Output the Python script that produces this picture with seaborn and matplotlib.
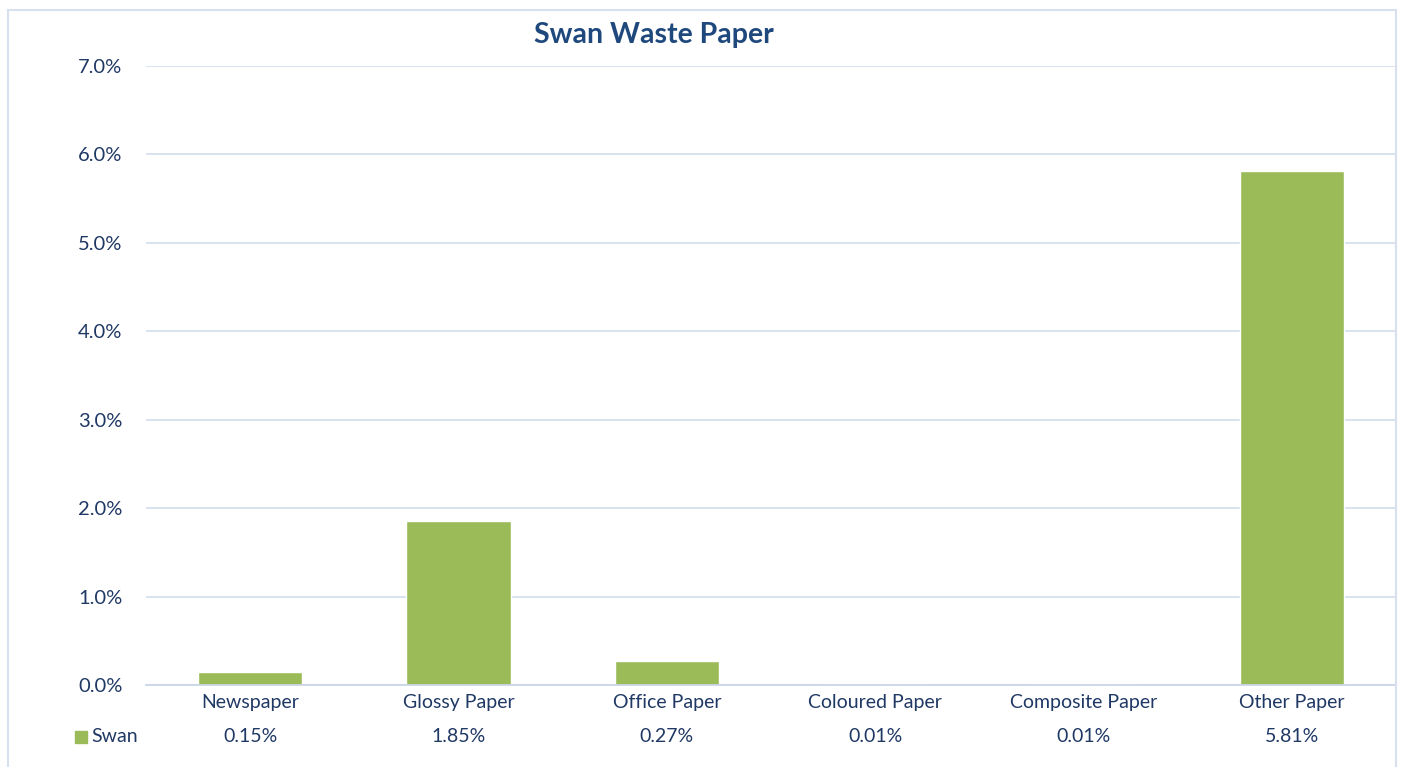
import matplotlib
matplotlib.use('Agg')
import matplotlib.pyplot as plt
from matplotlib.patches import Rectangle
from matplotlib.ticker import FuncFormatter
import seaborn as sns
import pandas as pd

categories = ['Newspaper', 'Glossy Paper', 'Office Paper', 'Coloured Paper',
              'Composite Paper', 'Other Paper']
swan = [0.15, 1.85, 0.27, 0.01, 0.01, 5.81]
value_labels = ['0.15%', '1.85%', '0.27%', '0.01%', '0.01%', '5.81%']

text_col = '#1F3864'
grid_col = '#D6E0EE'
bar_col = '#9BBB59'

sns.set_style('white')
plt.rcParams['font.family'] = ['Lato', 'DejaVu Sans']

df = pd.DataFrame({'category': categories, 'value': swan})

fig = plt.figure(figsize=(14.02, 7.67), dpi=100)
ax = fig.add_axes([146 / 1402, 1 - 685 / 767, 1250 / 1402, 619 / 767])

sns.barplot(data=df, x='category', y='value', color=bar_col, width=0.5,
            saturation=1, ax=ax)

ax.set_ylim(0, 7)
ax.set_yticks([0, 1, 2, 3, 4, 5, 6, 7])
ax.yaxis.set_major_formatter(FuncFormatter(lambda v, p: f'{v:.1f}%'))
ax.grid(axis='y', color=grid_col, linewidth=1.3)
ax.set_axisbelow(True)
for s in ['top', 'right', 'left']:
    ax.spines[s].set_visible(False)
ax.spines['bottom'].set_color('#C9D5E8')
ax.spines['bottom'].set_linewidth(1.3)
ax.tick_params(axis='y', length=0, pad=17, labelsize=14.5, labelcolor=text_col)
ax.tick_params(axis='x', length=0, pad=6.5, labelsize=14, labelcolor=text_col)
ax.set_xlabel('')
ax.set_ylabel('')

# data table row
trans = ax.get_xaxis_transform()
for i, lab in enumerate(value_labels):
    ax.text(i, -0.0825, lab, transform=trans, ha='center', va='center',
            fontsize=14, color=text_col)
fig.patches.append(Rectangle((75 / 1402, 1 - 743 / 767), 12 / 1402, 12 / 767,
                             transform=fig.transFigure, color=bar_col))
fig.text(91 / 1402, 1 - 737 / 767, 'Swan', ha='left', va='center',
         fontsize=14, color=text_col)

fig.text(654 / 1402, 1 - 35 / 767, 'Swan Waste Paper', ha='center', va='center',
         fontsize=20.5, fontweight='bold', color='#1F497D')

# chart border
fig.patches.append(Rectangle((8 / 1402, -0.05), 1388 / 1402, 1.05 - 10 / 767,
                             transform=fig.transFigure, fill=False,
                             edgecolor=grid_col, linewidth=1.5))

fig.savefig('out.png', dpi=100)
